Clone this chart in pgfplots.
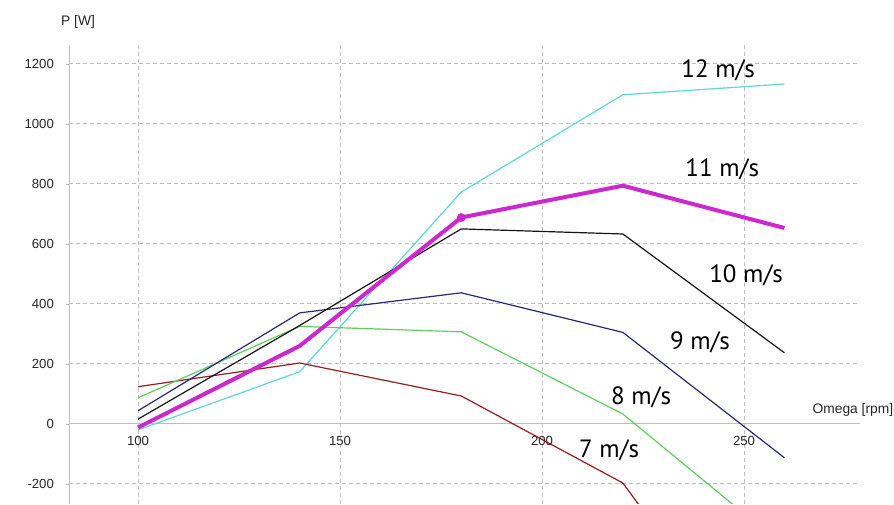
\documentclass[border=0pt]{standalone}
\usepackage{fontspec}
\setmainfont{Liberation Sans}
\newfontfamily\labfont{PT Sans}
\usepackage{pgfplots}
\pgfplotsset{compat=1.18}
\definecolor{c12}{RGB}{95,215,215}
\definecolor{c11}{RGB}{205,40,205}
\definecolor{c10}{RGB}{20,20,20}
\definecolor{c9}{RGB}{40,40,120}
\definecolor{c8}{RGB}{95,205,95}
\definecolor{c7}{RGB}{150,30,30}
\definecolor{gridc}{RGB}{190,190,190}
\begin{document}
\begin{tikzpicture}
\begin{axis}[
  scale only axis, width=395.5pt, height=229.5pt,
  xmin=82.9, xmax=278.7, ymin=-267, ymax=1263,
  axis x line=middle, axis y line=left,
  axis line style={gridc,-},
  xtick={100,150,200,250}, ytick={-200,0,200,400,600,800,1000,1200},
  grid=major, grid style={gridc, dash pattern=on 2pt off 1.5pt},
  tick style={gridc}, major tick length=1.5pt, tick align=outside,
  tick label style={font=\fontsize{6.6}{7}\selectfont, text=black!85},
  /pgf/number format/assume math mode=true,
  /pgf/number format/1000 sep={},
  yticklabel style={xshift=-2.5pt},
  xticklabel style={yshift=-1pt},
  xlabel={Omega [rpm]}, ylabel={P [W]},
  every axis x label/.style={at={(axis description cs:0.991,0.205)}, anchor=center, font=\fontsize{6.9}{7}\selectfont, text=black!85},
  every axis y label/.style={at={(axis description cs:0.0114,1.05)}, anchor=center, font=\fontsize{6.9}{7}\selectfont, text=black!85},
  clip=true,
]
\addplot[c12, line width=0.6pt] coordinates {(100,-20)(140,174)(180,773)(220,1097)(260,1133)};
\addplot[c7, line width=0.6pt] coordinates {(100,124)(140,203)(180,93)(220,-197)(260,-930)};
\addplot[c8, line width=0.6pt] coordinates {(100,87)(140,325)(180,307)(220,33)(260,-410)};
\addplot[c9, line width=0.6pt] coordinates {(100,44)(140,370)(180,437)(220,305)(260,-113)};
\addplot[c10, line width=0.6pt] coordinates {(100,16)(140,328)(180,650)(220,633)(260,237)};
\addplot[c11, line width=2pt] coordinates {(100,-12)(140,260)(180,688)(220,794)(260,653)};
\addplot[c11, only marks, mark=*, mark size=2pt] coordinates {(180,688)};
\begin{scope}[every node/.style={font=\labfont\fontsize{12.5}{14}\selectfont, anchor=base, inner sep=0pt}]
\node at (axis cs:243.6,1153) {12 m/s};
\node at (axis cs:244.6,823) {11 m/s};
\node at (axis cs:250.5,470) {10 m/s};
\node at (axis cs:239.1,247) {9 m/s};
\node at (axis cs:224.5,63) {8 m/s};
\node at (axis cs:216.6,-113) {7 m/s};
\end{scope}
\end{axis}
\pgfresetboundingbox
\path[use as bounding box] (-34.5pt,0) rectangle (412.5pt,252pt);
\end{tikzpicture}
\end{document}
